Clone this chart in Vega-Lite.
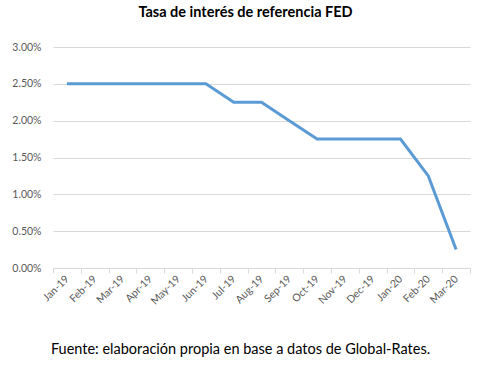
{
  "$schema": "https://vega.github.io/schema/vega-lite/v6.json",
  "autosize": {"type": "none"},
  "padding": {"left": 53, "top": 47, "right": 28, "bottom": 105},
  "width": 417,
  "height": 221,
  "background": "white",
  "title": {
    "text": "Tasa de interés de referencia FED",
    "font": "Lato",
    "fontSize": 14.5,
    "fontWeight": "bold",
    "color": "#000000",
    "anchor": "middle",
    "dx": -16,
    "offset": 22
  },
  "data": {
    "values": [
      {"mes": "Jan-19", "tasa": 0.025},
      {"mes": "Feb-19", "tasa": 0.025},
      {"mes": "Mar-19", "tasa": 0.025},
      {"mes": "Apr-19", "tasa": 0.025},
      {"mes": "May-19", "tasa": 0.025},
      {"mes": "Jun-19", "tasa": 0.025},
      {"mes": "Jul-19", "tasa": 0.0225},
      {"mes": "Aug-19", "tasa": 0.0225},
      {"mes": "Sep-19", "tasa": 0.02},
      {"mes": "Oct-19", "tasa": 0.0175},
      {"mes": "Nov-19", "tasa": 0.0175},
      {"mes": "Dec-19", "tasa": 0.0175},
      {"mes": "Jan-20", "tasa": 0.0175},
      {"mes": "Feb-20", "tasa": 0.0125},
      {"mes": "Mar-20", "tasa": 0.0025}
    ]
  },
  "mark": {"type": "line", "color": "#5B9BD5", "strokeWidth": 3},
  "encoding": {
    "x": {
      "field": "mes",
      "type": "ordinal",
      "sort": null,
      "scale": {"type": "band", "paddingInner": 0, "paddingOuter": 0},
      "axis": {
        "title": "Fuente: elaboración propia en base a datos de Global-Rates.",
        "titleFont": "Lato",
        "titleFontSize": 14.5,
        "titleFontWeight": "normal",
        "titleColor": "#000000",
        "titleX": 187,
        "titleY": 81,
        "titleAnchor": "middle",
        "titleAlign": "center",
        "titleBaseline": "middle",
        "labelAngle": -45,
        "labelAlign": "right",
        "labelBaseline": "middle",
        "labelFont": "Lato",
        "labelFontSize": 10.5,
        "labelColor": "#595959",
        "labelPadding": 4,
        "domainColor": "#D9D9D9",
        "domainWidth": 1,
        "tickColor": "#D9D9D9",
        "tickSize": 5,
        "tickBand": "extent",
        "grid": false
      }
    },
    "y": {
      "field": "tasa",
      "type": "quantitative",
      "scale": {"domain": [0, 0.03], "nice": false},
      "axis": {
        "title": null,
        "format": ".2%",
        "values": [0, 0.005, 0.01, 0.015, 0.02, 0.025, 0.03],
        "labelFont": "Lato",
        "labelFontSize": 10.5,
        "labelColor": "#595959",
        "labelPadding": 12,
        "domain": false,
        "ticks": false,
        "gridColor": "#D9D9D9",
        "gridWidth": 1
      }
    }
  },
  "config": {"view": {"stroke": null}}
}
